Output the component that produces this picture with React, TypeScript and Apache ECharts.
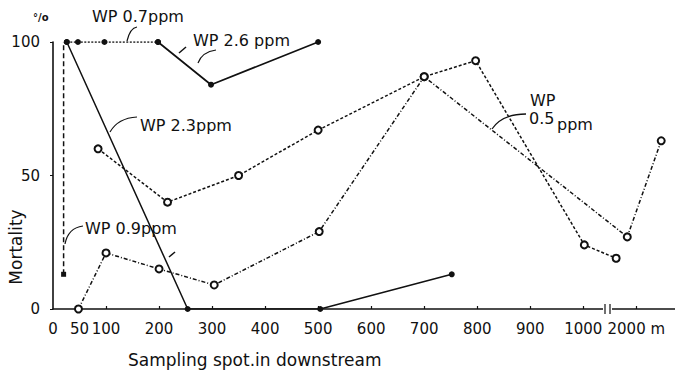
import React, { useEffect, useRef } from "react";
import * as echarts from "echarts";

// Distances on display scale (m); values beyond 1000 sit past the axis break (1100 = "2000 m")
const xTickValues = [0, 50, 100, 200, 300, 400, 500, 600, 700, 800, 900, 1000, 1100];
const xMinorTicks = [100, 200, 300, 400, 500, 600, 700, 800, 900, 1000, 1100];

const wp07: [number, number][] = [[26, 100], [47, 100], [97, 100], [198, 100]];
const wp26: [number, number][] = [[198, 100], [298, 84], [500, 100]];
const wp23: [number, number][] = [[26, 100], [254, 0], [504, 0], [752, 13]];
const wp09Vertical: [number, number][] = [[20, 13], [20, 100]];
const wp05Upper: [number, number][] = [[85, 60], [216, 40], [350, 50], [500, 67], [700, 87], [797, 93], [1002, 24], [1062, 19]];
const wp05Lower: [number, number][] = [[48, 0], [100, 21], [200, 15], [304, 9], [502, 29], [700, 87], [1083, 27], [1147, 63]];

const FONT = "DejaVu Sans";

export default function App() {
  const ref = useRef<HTMLDivElement>(null);
  useEffect(() => {
    if (!ref.current) return;
    const chart = echarts.init(ref.current, null, { renderer: "svg" });
    const black = "#111";
    const option: any = {
      animation: false,
      backgroundColor: "#fff",
      grid: { left: 53, right: 0, top: 42, bottom: 63, containLabel: false, outerBoundsMode: "none" },
      xAxis: {
        type: "value",
        min: 0,
        max: 1173,
        axisLine: { show: true, lineStyle: { color: black, width: 1.6 } },
        axisTick: { show: true, inside: true, length: 3, customValues: xMinorTicks, lineStyle: { color: black, width: 1.2 } },
        splitLine: { show: false },
        axisLabel: {
          customValues: xTickValues,
          color: black,
          fontFamily: FONT,
          fontSize: 15,
          margin: 12,
          formatter: (v: number) => (v === 1100 ? "2000 m" : String(v)),
        },
      },
      yAxis: {
        type: "value",
        min: 0,
        max: 100,
        interval: 50,
        axisLine: { show: true, lineStyle: { color: black, width: 1.6 } },
        axisTick: { show: true, length: 3, lineStyle: { color: black } },
        splitLine: { show: false },
        axisLabel: { color: black, fontFamily: FONT, fontSize: 15, margin: 13 },
      },
      series: [
        {
          name: "WP 0.9ppm vertical",
          type: "line",
          data: [
            { value: wp09Vertical[0], symbol: "rect", symbolSize: 5 },
            { value: wp09Vertical[1], symbol: "none" },
          ],
          lineStyle: { color: black, width: 1.5, type: [5, 3] },
          itemStyle: { color: black },
          z: 3,
        },
        {
          name: "WP 0.5ppm upper",
          type: "line",
          data: wp05Upper,
          symbol: "emptyCircle",
          symbolSize: 7,
          lineStyle: { color: black, width: 1.5, type: [3, 2] },
          itemStyle: { color: black, borderWidth: 1.3 },
          z: 4,
        },
        {
          name: "WP 0.5ppm lower",
          type: "line",
          data: wp05Lower,
          symbol: "emptyCircle",
          symbolSize: 7,
          lineStyle: { color: black, width: 1.5, type: [4, 2, 1, 2] },
          itemStyle: { color: black, borderWidth: 1.3 },
          z: 4,
        },
        {
          name: "WP 2.3ppm",
          type: "line",
          data: wp23,
          symbol: "circle",
          symbolSize: 6,
          lineStyle: { color: black, width: 1.5 },
          itemStyle: { color: black },
          z: 5,
        },
        {
          name: "WP 0.7ppm",
          type: "line",
          data: wp07,
          symbol: "circle",
          symbolSize: 6,
          lineStyle: { color: black, width: 1.5, type: [2, 1.5] },
          itemStyle: { color: black },
          z: 5,
        },
        {
          name: "WP 2.6ppm",
          type: "line",
          data: wp26,
          symbol: "circle",
          symbolSize: 6,
          lineStyle: { color: black, width: 1.7 },
          itemStyle: { color: black },
          z: 5,
        },
      ],
      graphic: [
        // axis break on x axis
        { type: "rect", shape: { x: 603, y: 304, width: 9, height: 10 }, style: { fill: "#fff" }, z: 100 },
        { type: "line", shape: { x1: 605, y1: 304, x2: 605, y2: 314 }, style: { stroke: black, lineWidth: 1.2 }, z: 101 },
        { type: "line", shape: { x1: 610, y1: 304, x2: 610, y2: 314 }, style: { stroke: black, lineWidth: 1.2 }, z: 101 },
        // axis titles
        { type: "text", x: 16, y: 247, rotation: Math.PI / 2, style: { text: "Mortality", font: `17px ${FONT}`, fill: black, align: "center", verticalAlign: "middle" } },
        { type: "text", x: 128, y: 360, style: { text: "Sampling spot.in downstream", font: `17px ${FONT}`, fill: black, align: "left", verticalAlign: "middle" } },
        // percent sign
        { type: "text", x: 33, y: 12, style: { text: "°/o", font: `bold 10px ${FONT}`, fill: black } },
        // annotations
        { type: "text", x: 92, y: 8, style: { text: "WP 0.7ppm", font: `16px ${FONT}`, fill: black } },
        { type: "bezierCurve", shape: { x1: 137, y1: 27, x2: 127, y2: 41, cpx1: 130, cpy1: 28 }, style: { stroke: black, lineWidth: 1.2, fill: "none" } },
        { type: "text", x: 193, y: 32, style: { text: "WP 2.6 ppm", font: `16px ${FONT}`, fill: black } },
        { type: "bezierCurve", shape: { x1: 216, y1: 50, x2: 198, y2: 63, cpx1: 202, cpy1: 52 }, style: { stroke: black, lineWidth: 1.2, fill: "none" } },
        { type: "line", shape: { x1: 186, y1: 47, x2: 179, y2: 53 }, style: { stroke: black, lineWidth: 1.5 } },
        { type: "text", x: 140, y: 117, style: { text: "WP 2.3ppm", font: `16px ${FONT}`, fill: black } },
        { type: "bezierCurve", shape: { x1: 137, y1: 117, x2: 110, y2: 132, cpx1: 118, cpy1: 118 }, style: { stroke: black, lineWidth: 1.2, fill: "none" } },
        { type: "text", x: 85, y: 220, style: { text: "WP 0.9ppm", font: `16px ${FONT}`, fill: black } },
        { type: "bezierCurve", shape: { x1: 83, y1: 226, x2: 65, y2: 244, cpx1: 68, cpy1: 228 }, style: { stroke: black, lineWidth: 1.2, fill: "none" } },
        { type: "line", shape: { x1: 175, y1: 252, x2: 169, y2: 257 }, style: { stroke: black, lineWidth: 1.5 } },
        { type: "text", x: 530, y: 92, style: { text: "WP", font: `16px ${FONT}`, fill: black } },
        { type: "text", x: 529, y: 110, style: { text: "0.5", font: `16px ${FONT}`, fill: black } },
        { type: "text", x: 557, y: 116, style: { text: "ppm", font: `16px ${FONT}`, fill: black } },
        { type: "bezierCurve", shape: { x1: 526, y1: 114, x2: 492, y2: 129, cpx1: 502, cpy1: 114 }, style: { stroke: black, lineWidth: 1.3, fill: "none" } },
      ],
    };
    chart.setOption(option);
    return () => chart.dispose();
  }, []);
  return <div ref={ref} style={{ width: 675, height: 372, position: "absolute", left: 0, top: 0 }} />;
}
